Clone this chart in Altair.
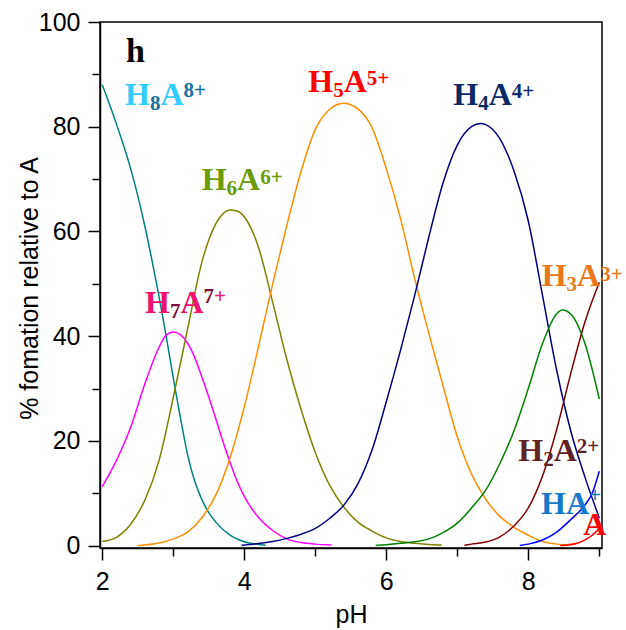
import altair as alt
import pandas as pd

# ---- species distribution curves: % formation relative to A vs pH ----
species = ["H8A8+", "H7A7+", "H6A6+", "H5A5+", "H4A4+", "H3A3+", "H2A2+", "HA+", "A"]
curve_colors = ["#008080", "#FF00FF", "#808000", "#FF8C00", "#000080",
                "#008000", "#800000", "#0000FF", "#FF0000"]

ph_h8 = [2.0, 2.2, 2.4, 2.6, 2.7, 2.8, 2.9, 3.0, 3.1, 3.2, 3.3, 3.4, 3.5, 3.6,
         3.8, 4.0, 4.2, 4.3]
pct_h8 = [88.0, 80.5, 72.0, 61.0, 54.5, 47.5, 40.0, 32.0, 24.5, 17.5, 12.4, 8.9,
          6.3, 4.5, 2.0, 0.75, 0.25, 0.1]

ph_h7 = [2.0, 2.2, 2.4, 2.6, 2.8, 2.9, 3.0, 3.1, 3.2, 3.3, 3.4, 3.5, 3.6, 3.7,
         3.8, 3.9, 4.0, 4.2, 4.4, 4.6, 4.8, 5.0, 5.23]
pct_h7 = [11.3, 16.3, 22.6, 30.9, 37.9, 40.2, 40.8, 40.3, 38.7, 36.0, 32.3, 28.4,
          24.2, 19.9, 15.9, 12.3, 9.4, 5.4, 2.9, 1.3, 0.6, 0.3, 0.15]

ph_h6 = [2.0, 2.2, 2.4, 2.6, 2.8, 3.0, 3.2, 3.4, 3.6, 3.7, 3.8, 3.9, 4.0, 4.1,
         4.2, 4.4, 4.6, 4.8, 5.0, 5.2, 5.4, 5.6, 5.8, 6.0, 6.2, 6.4, 6.6, 6.78]
pct_h6 = [0.8, 1.6, 4.1, 8.7, 16.3, 28.3, 41.3, 54.0, 61.5, 63.4, 64.1, 63.9,
          62.8, 60.5, 57.0, 46.5, 35.5, 26.0, 17.8, 11.6, 7.4, 4.5, 2.8, 1.5,
          0.8, 0.45, 0.25, 0.15]

ph_h5 = [2.5, 2.8, 3.0, 3.2, 3.4, 3.6, 3.8, 4.0, 4.2, 4.4, 4.6, 4.8, 5.0, 5.2,
         5.4, 5.6, 5.8, 6.0, 6.2, 6.4, 6.6, 6.8, 7.0, 7.2, 7.4, 7.6, 7.8, 8.0,
         8.2, 8.4, 8.55, 8.65]
pct_h5 = [0.05, 0.5, 1.3, 2.6, 5.3, 9.7, 16.8, 26.5, 38.0, 50.0, 61.2, 71.5,
          79.5, 83.3, 84.5, 83.4, 79.8, 72.0, 62.5, 51.0, 40.5, 30.5, 20.8,
          13.7, 8.9, 5.6, 3.5, 2.0, 0.8, 0.3, 0.2, 0.4]

ph_h4 = [3.96, 4.2, 4.4, 4.6, 4.8, 5.0, 5.2, 5.4, 5.6, 5.8, 6.0, 6.2, 6.4, 6.6,
         6.8, 7.0, 7.2, 7.33, 7.4, 7.6, 7.8, 8.0, 8.2, 8.4, 8.6, 8.8, 9.0]
pct_h4 = [0.1, 0.4, 0.8, 1.4, 2.2, 3.3, 5.2, 7.7, 11.8, 18.3, 27.5, 37.3, 47.8,
          59.0, 69.3, 76.5, 80.0, 80.6, 80.4, 77.7, 71.5, 62.0, 47.8, 33.5,
          21.8, 13.0, 5.3]

ph_h3 = [5.85, 6.0, 6.2, 6.4, 6.6, 6.8, 7.0, 7.2, 7.4, 7.6, 7.8, 8.0, 8.2, 8.4,
         8.48, 8.6, 8.8, 9.0]
pct_h3 = [0.05, 0.2, 0.45, 0.75, 1.3, 2.5, 4.3, 7.2, 10.6, 15.7, 22.0, 30.0,
          38.6, 44.3, 45.0, 44.2, 38.5, 28.0]

ph_h2 = [7.1, 7.2, 7.4, 7.6, 7.8, 8.0, 8.2, 8.4, 8.6, 8.8, 9.0]
pct_h2 = [0.1, 0.3, 0.7, 1.7, 3.8, 7.2, 13.3, 22.2, 33.0, 42.8, 50.3]

ph_h1 = [7.88, 8.0, 8.2, 8.4, 8.6, 8.8, 8.9, 9.0]
pct_h1 = [0.05, 0.3, 1.1, 2.6, 5.0, 7.8, 10.0, 14.2]

ph_a = [8.45, 8.6, 8.7, 8.8, 8.9, 9.0]
pct_a = [0.05, 0.2, 0.5, 1.1, 2.0, 3.3]

series_ph = [ph_h8, ph_h7, ph_h6, ph_h5, ph_h4, ph_h3, ph_h2, ph_h1, ph_a]
series_pct = [pct_h8, pct_h7, pct_h6, pct_h5, pct_h4, pct_h3, pct_h2, pct_h1, pct_a]

rows = []
for name, xs, ys in zip(species, series_ph, series_pct):
    for x, y in zip(xs, ys):
        rows.append({"species": name, "pH": x, "pct": y})
curves = pd.DataFrame(rows)

# ---- plot geometry ----
W, H = 502, 526
X_DOMAIN = [1.968, 9.038]
Y_DOMAIN = [-0.44, 100]
PX_X = W / (X_DOMAIN[1] - X_DOMAIN[0])
PX_Y = H / (Y_DOMAIN[1] - Y_DOMAIN[0])

# ---- species labels: chemical formula pieces (text, role, colour) ----
MAIN, SMALL = 32, 21
ADVANCE = {"H": 0.778, "A": 0.722, "+": 0.570}  # bold serif advance widths (em)


def advance(text, size):
    return sum(ADVANCE.get(ch, 0.5) for ch in text) * size


label_specs = [
    # base pH, base %, superscript rise (px), pieces
    (2.320, 84.2, 8, [("H", "main", "#33CCFF"), ("8", "sub", "#17719B"),
                      ("A", "main", "#33CCFF"), ("8+", "sup", "#17719B")]),
    (2.602, 44.4, 10, [("H", "main", "#EE1170"), ("7", "sub", "#7A0F3C"),
                       ("A", "main", "#EE1170"), ("7", "sup", "#7A0F3C"),
                       ("+", "sup", "#E8187A")]),
    (3.400, 68.0, 6, [("H", "main", "#6B9A0A"), ("6", "sub", "#6B9A0A"),
                      ("A", "main", "#6B9A0A"), ("6+", "sup", "#6B9A0A")]),
    (4.902, 86.7, 7, [("H", "main", "#FF0000"), ("5", "sub", "#FF0000"),
                      ("A", "main", "#FF0000"), ("5+", "sup", "#FF0000")]),
    (6.944, 84.2, 7, [("H", "main", "#0D2A66"), ("4", "sub", "#0D2A66"),
                      ("A", "main", "#0D2A66"), ("4+", "sup", "#0D2A66")]),
    (8.189, 49.5, 5, [("H", "main", "#E8781A"), ("3", "sub", "#E8781A"),
                      ("A", "main", "#E8781A"), ("3+", "sup", "#E8781A")]),
    (7.859, 16.1, 8, [("H", "main", "#5E2424"), ("2", "sub", "#5E2424"),
                      ("A", "main", "#5E2424"), ("2+", "sup", "#5E2424")]),
    (8.180, 6.1, 12, [("H", "main", "#1479C9"), ("A", "main", "#1479C9"),
                      ("+", "sup", "#1479C9")]),
    (8.775, 2.1, 0, [("A", "main", "#FF0000")]),
]

label_rows = [{"t": "h", "pH": 2.334, "pct": 92.3, "size": 34, "color": "#000000"}]
for base_x, base_y, rise, pieces in label_specs:
    offset = 0.0
    for text, role, color in pieces:
        size = MAIN if role == "main" else SMALL
        shift = {"main": 0, "sub": -5, "sup": rise}[role]
        label_rows.append({
            "t": text,
            "pH": base_x + offset / PX_X,
            "pct": base_y + shift / PX_Y,
            "size": size,
            "color": color,
        })
        offset += advance(text, size)
labels = pd.DataFrame(label_rows)

# ---- axes ----
x_scale = alt.Scale(domain=X_DOMAIN, nice=False, zero=False)
y_scale = alt.Scale(domain=Y_DOMAIN, nice=False, zero=False)

axis_style = dict(
    grid=False,
    domainColor="black", domainWidth=1.5,
    tickColor="black", tickWidth=1.5,
    labelFont="Liberation Sans", labelFontSize=25, labelColor="black",
    titleFont="Liberation Sans", titleFontSize=25, titleFontWeight="normal",
    titleColor="black",
)

x_axis = alt.Axis(
    values=[2, 3, 4, 5, 6, 7, 8, 9],
    format="d",
    labelExpr="datum.value % 2 === 0 ? datum.label : ''",
    tickSize={"condition": {"test": "datum.value % 2 === 0", "value": 12}, "value": 8},
    labelPadding=9,
    title="pH",
    titleX=251, titleY=74, titleBaseline="alphabetic", titleAlign="center",
    **axis_style,
)
y_axis = alt.Axis(
    values=[0, 10, 20, 30, 40, 50, 60, 70, 80, 90, 100],
    format="d",
    labelExpr="datum.value % 20 === 0 ? datum.label : ''",
    tickSize={"condition": {"test": "datum.value % 20 === 0", "value": 12}, "value": 8},
    labelPadding=8,
    title="% fomation relative to A",
    titleAngle=-90, titleX=-63, titleY=266,
    titleBaseline="alphabetic", titleAlign="center",
    **axis_style,
)

lines = alt.Chart(curves).mark_line(strokeWidth=1.5, interpolate="monotone").encode(
    x=alt.X("pH:Q", scale=x_scale, axis=x_axis),
    y=alt.Y("pct:Q", scale=y_scale, axis=y_axis),
    color=alt.Color("species:N", scale=alt.Scale(domain=species, range=curve_colors),
                    legend=None),
)

text = alt.Chart(labels).mark_text(
    align="left", baseline="alphabetic", font="Liberation Serif", fontWeight="bold"
).encode(
    x=alt.X("pH:Q", scale=x_scale),
    y=alt.Y("pct:Q", scale=y_scale),
    text="t:N",
    size=alt.Size("size:Q", scale=None),
    color=alt.Color("color:N", scale=None),
)

chart = (
    alt.layer(lines, text)
    .properties(
        width=W, height=H,
        autosize=alt.AutoSizeParams(type="none"),
        padding={"left": 100, "top": 22, "right": 24, "bottom": 82},
        background="white",
    )
    .configure_view(stroke="black", strokeWidth=1.5)
)

chart.save("out.html", embed_options={"renderer": "svg", "actions": False})
